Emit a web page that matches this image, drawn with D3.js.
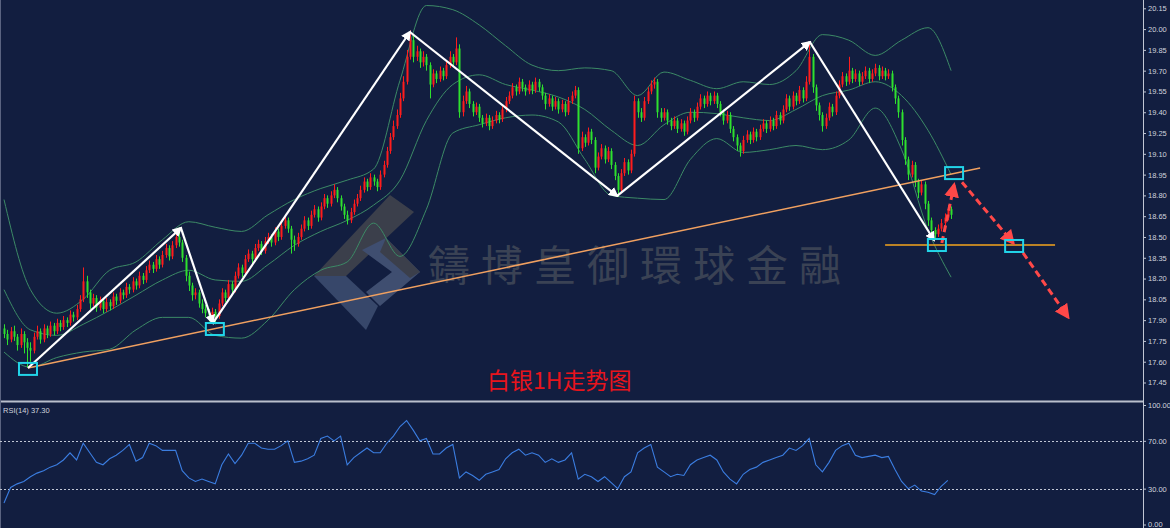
<!DOCTYPE html>
<html><head><meta charset="utf-8">
<script src="https://cdn.jsdelivr.net/npm/d3@7/dist/d3.min.js"></script>
<style>html,body{margin:0;padding:0;background:#121e40;overflow:hidden}</style>
</head><body><svg id="c" width="1170" height="528"></svg>
<script>
const open=[17.84,17.80,17.76,17.82,17.78,17.72,17.80,17.74,17.70,17.68,
17.78,17.82,17.76,17.84,17.80,17.86,17.82,17.88,17.85,17.90,
17.88,17.94,17.92,17.98,18.05,18.18,18.10,18.02,18.06,17.99,
18.04,17.98,18.03,18.00,18.07,18.04,18.10,18.08,18.14,18.12,
18.18,18.15,18.22,18.19,18.26,18.30,18.27,18.34,18.30,18.37,
18.42,18.36,18.44,18.50,18.46,18.35,18.22,18.15,18.08,18.10,
18.02,17.98,17.95,17.92,17.96,17.93,18.02,18.10,18.06,18.16,
18.12,18.22,18.28,18.24,18.34,18.38,18.34,18.42,18.45,18.40,
18.47,18.50,18.46,18.54,18.50,18.58,18.62,18.56,18.48,18.45,
18.50,18.56,18.62,18.58,18.66,18.70,18.64,18.72,18.78,18.74,
18.80,18.84,18.78,18.72,18.66,18.62,18.68,18.74,18.78,18.84,
18.90,18.86,18.93,18.90,18.86,18.95,19.02,19.12,19.22,19.30,
19.38,19.50,19.62,19.80,19.92,19.80,19.84,19.76,19.80,19.74,
19.60,19.68,19.64,19.70,19.66,19.74,19.80,19.76,19.86,19.40,
19.48,19.55,19.46,19.40,19.44,19.36,19.32,19.36,19.30,19.34,
19.38,19.35,19.42,19.48,19.52,19.58,19.55,19.62,19.58,19.55,
19.60,19.56,19.62,19.58,19.52,19.46,19.50,19.44,19.48,19.42,
19.46,19.40,19.48,19.52,19.56,19.14,19.22,19.18,19.26,19.20,
19.00,19.08,19.14,19.06,19.12,19.02,18.94,18.84,18.96,19.04,
18.98,19.10,19.48,19.40,19.36,19.48,19.55,19.60,19.62,19.40,
19.36,19.40,19.34,19.30,19.34,19.28,19.32,19.26,19.34,19.40,
19.36,19.44,19.50,19.46,19.52,19.48,19.52,19.46,19.40,19.34,
19.38,19.28,19.22,19.16,19.12,19.20,19.24,19.20,19.26,19.22,
19.28,19.32,19.28,19.34,19.30,19.38,19.34,19.42,19.50,19.44,
19.52,19.48,19.56,19.50,19.62,19.80,19.58,19.45,19.38,19.30,
19.36,19.44,19.40,19.52,19.60,19.66,19.62,19.70,19.64,19.68,
19.62,19.66,19.70,19.64,19.68,19.72,19.66,19.70,19.66,19.68,
19.58,19.50,19.40,19.20,19.06,18.95,19.02,18.90,18.82,18.88,
18.74,18.62,18.55,18.52,18.56,18.60,18.64,18.70];
const close=[17.80,17.76,17.82,17.78,17.72,17.80,17.74,17.70,17.68,17.78,
17.82,17.76,17.84,17.80,17.86,17.82,17.88,17.85,17.90,17.88,
17.94,17.92,17.98,18.05,18.18,18.10,18.02,18.06,17.99,18.04,
17.98,18.03,18.00,18.07,18.04,18.10,18.08,18.14,18.12,18.18,
18.15,18.22,18.19,18.26,18.30,18.27,18.34,18.30,18.37,18.42,
18.36,18.44,18.50,18.46,18.35,18.22,18.15,18.08,18.10,18.02,
17.98,17.95,17.92,17.96,17.93,18.02,18.10,18.06,18.16,18.12,
18.22,18.28,18.24,18.34,18.38,18.34,18.42,18.45,18.40,18.47,
18.50,18.46,18.54,18.50,18.58,18.62,18.56,18.48,18.45,18.50,
18.56,18.62,18.58,18.66,18.70,18.64,18.72,18.78,18.74,18.80,
18.84,18.78,18.72,18.66,18.62,18.68,18.74,18.78,18.84,18.90,
18.86,18.93,18.90,18.86,18.95,19.02,19.12,19.22,19.30,19.38,
19.50,19.62,19.80,19.92,19.80,19.84,19.76,19.80,19.74,19.60,
19.68,19.64,19.70,19.66,19.74,19.80,19.76,19.86,19.40,19.48,
19.55,19.46,19.40,19.44,19.36,19.32,19.36,19.30,19.34,19.38,
19.35,19.42,19.48,19.52,19.58,19.55,19.62,19.58,19.55,19.60,
19.56,19.62,19.58,19.52,19.46,19.50,19.44,19.48,19.42,19.46,
19.40,19.48,19.52,19.56,19.14,19.22,19.18,19.26,19.20,19.00,
19.08,19.14,19.06,19.12,19.02,18.94,18.84,18.96,19.04,18.98,
19.10,19.48,19.40,19.36,19.48,19.55,19.60,19.62,19.40,19.36,
19.40,19.34,19.30,19.34,19.28,19.32,19.26,19.34,19.40,19.36,
19.44,19.50,19.46,19.52,19.48,19.52,19.46,19.40,19.34,19.38,
19.28,19.22,19.16,19.12,19.20,19.24,19.20,19.26,19.22,19.28,
19.32,19.28,19.34,19.30,19.38,19.34,19.42,19.50,19.44,19.52,
19.48,19.56,19.50,19.62,19.80,19.58,19.45,19.38,19.30,19.36,
19.44,19.40,19.52,19.60,19.66,19.62,19.70,19.64,19.68,19.62,
19.66,19.70,19.64,19.68,19.72,19.66,19.70,19.66,19.68,19.58,
19.50,19.40,19.20,19.06,18.95,19.02,18.90,18.82,18.88,18.74,
18.62,18.55,18.52,18.56,18.60,18.64,18.70,18.66];
const high=[17.87,17.83,17.85,17.86,17.80,17.84,17.82,17.77,17.74,17.81,
17.86,17.84,17.87,17.86,17.89,17.88,17.91,17.90,17.93,17.92,
17.97,17.96,18.01,18.08,18.28,18.22,18.12,18.09,18.08,18.07,
18.06,18.06,18.05,18.10,18.09,18.13,18.12,18.17,18.16,18.21,
18.20,18.25,18.24,18.29,18.33,18.32,18.37,18.36,18.40,18.45,
18.44,18.47,18.53,18.57,18.48,18.37,18.25,18.17,18.13,18.12,
18.05,18.01,17.98,17.99,17.98,18.05,18.13,18.12,18.19,18.18,
18.25,18.31,18.30,18.37,18.41,18.40,18.45,18.48,18.47,18.50,
18.53,18.52,18.57,18.56,18.61,18.66,18.64,18.58,18.51,18.53,
18.59,18.65,18.64,18.69,18.73,18.72,18.75,18.81,18.80,18.83,
18.88,18.86,18.80,18.74,18.69,18.71,18.77,18.81,18.87,18.93,
18.92,18.96,18.95,18.92,18.98,19.05,19.15,19.25,19.34,19.42,
19.54,19.66,19.85,19.99,19.95,19.88,19.86,19.84,19.82,19.76,
19.71,19.70,19.73,19.72,19.77,19.84,19.82,19.94,19.89,19.52,
19.59,19.57,19.48,19.47,19.46,19.38,19.39,19.38,19.37,19.41,
19.40,19.45,19.51,19.55,19.61,19.60,19.65,19.64,19.60,19.63,
19.62,19.65,19.64,19.60,19.54,19.53,19.52,19.51,19.50,19.49,
19.48,19.51,19.55,19.59,19.58,19.26,19.24,19.29,19.28,19.22,
19.11,19.17,19.16,19.15,19.14,19.04,18.96,18.99,19.07,19.06,
19.13,19.52,19.50,19.43,19.51,19.58,19.63,19.65,19.64,19.43,
19.43,19.42,19.36,19.37,19.36,19.35,19.34,19.37,19.43,19.42,
19.47,19.53,19.52,19.55,19.54,19.55,19.54,19.48,19.42,19.41,
19.40,19.30,19.24,19.18,19.23,19.27,19.26,19.29,19.28,19.31,
19.35,19.34,19.37,19.36,19.41,19.40,19.45,19.53,19.52,19.55,
19.54,19.59,19.58,19.66,19.90,19.82,19.60,19.47,19.40,19.39,
19.47,19.46,19.55,19.63,19.69,19.68,19.80,19.72,19.71,19.70,
19.69,19.73,19.72,19.71,19.75,19.74,19.73,19.72,19.71,19.70,
19.60,19.52,19.42,19.22,19.08,19.05,19.04,18.92,18.91,18.90,
18.76,18.64,18.57,18.59,18.63,18.67,18.73,18.72];
const low=[17.77,17.72,17.74,17.75,17.68,17.70,17.66,17.56,17.60,17.66,
17.76,17.73,17.74,17.77,17.78,17.79,17.80,17.82,17.83,17.85,
17.86,17.89,17.90,17.96,18.03,18.06,17.98,18.00,17.96,17.97,
17.95,17.96,17.97,17.98,18.01,18.02,18.05,18.06,18.09,18.10,
18.12,18.13,18.16,18.17,18.24,18.24,18.25,18.27,18.28,18.35,
18.33,18.34,18.42,18.43,18.32,18.18,18.11,18.04,18.05,17.99,
17.95,17.92,17.89,17.90,17.87,17.91,18.00,18.03,18.04,18.09,
18.10,18.20,18.21,18.22,18.32,18.31,18.32,18.40,18.37,18.38,
18.45,18.43,18.44,18.47,18.48,18.56,18.53,18.38,18.40,18.43,
18.48,18.54,18.55,18.56,18.64,18.61,18.62,18.70,18.71,18.72,
18.78,18.75,18.69,18.63,18.59,18.60,18.66,18.72,18.76,18.82,
18.83,18.84,18.87,18.83,18.84,18.93,19.00,19.10,19.20,19.28,
19.36,19.48,19.60,19.78,19.76,19.77,19.72,19.73,19.70,19.50,
19.58,19.61,19.62,19.63,19.64,19.72,19.73,19.74,19.36,19.37,
19.46,19.43,19.37,19.38,19.33,19.29,19.30,19.27,19.28,19.32,
19.32,19.33,19.40,19.46,19.50,19.52,19.53,19.55,19.52,19.53,
19.53,19.54,19.55,19.49,19.42,19.44,19.41,19.42,19.39,19.40,
19.37,19.38,19.46,19.50,19.10,19.12,19.15,19.16,19.17,18.96,
18.98,19.06,19.03,19.04,18.99,18.91,18.79,18.82,18.94,18.95,
18.96,19.08,19.36,19.33,19.34,19.46,19.53,19.57,19.36,19.33,
19.34,19.31,19.27,19.28,19.25,19.26,19.23,19.24,19.32,19.33,
19.34,19.42,19.43,19.44,19.45,19.46,19.43,19.37,19.31,19.32,
19.25,19.19,19.12,19.08,19.10,19.18,19.17,19.18,19.19,19.20,
19.26,19.25,19.26,19.27,19.28,19.31,19.32,19.40,19.41,19.42,
19.45,19.46,19.47,19.48,19.60,19.54,19.41,19.34,19.26,19.28,
19.34,19.37,19.38,19.50,19.58,19.59,19.60,19.61,19.62,19.59,
19.60,19.64,19.61,19.62,19.66,19.63,19.64,19.63,19.64,19.55,
19.46,19.36,19.16,19.02,18.91,18.93,18.86,18.78,18.80,18.70,
18.58,18.51,18.48,18.50,18.54,18.58,18.62,18.63];

// Bollinger band readings, taken every 8 bars
const bandIdx=[0,8,16,24,32,40,48,56,64,72,80,88,96,104,112,120,128,136,144,152,160,168,176,184,192,200,208,216,224,232,240,248,256,264,272,280,287];
const bandUpper=[18.77,18.12,17.95,18.05,18.26,18.32,18.48,18.61,18.57,18.54,18.66,18.77,18.85,18.91,18.99,19.63,20.17,20.14,20.03,19.88,19.74,19.70,19.72,19.70,19.52,19.69,19.63,19.57,19.62,19.60,19.70,19.96,19.92,19.81,19.92,20.01,19.70];
const bandMiddle=[18.12,17.83,17.79,17.87,17.97,18.08,18.19,18.26,18.19,18.18,18.30,18.44,18.54,18.62,18.73,18.91,19.34,19.60,19.67,19.60,19.56,19.51,19.42,19.27,19.16,19.31,19.40,19.39,19.36,19.34,19.42,19.52,19.56,19.62,19.52,19.27,18.95];
const bandLower=[17.67,17.56,17.63,17.67,17.69,17.83,17.92,17.92,17.79,17.77,17.90,18.12,18.26,18.32,18.60,18.36,18.70,19.25,19.31,19.36,19.38,19.33,19.06,18.80,18.78,18.77,19.06,19.21,19.11,19.13,19.16,19.13,19.20,19.43,19.13,18.55,18.21];

// RSI(14), one reading every 2 bars
const rsi=[18,31,34,36,40,43,45,48,50,54,60,54,68,60,52,50,55,58,62,67,
53,56,68,66,62,62,62,45,39,36,38,36,34,50,59,51,58,68,68,64,
63,63,66,70,52,53,55,58,72,74,70,74,50,56,60,64,60,60,68,74,
82,87,79,70,72,59,59,64,67,39,44,41,37,42,44,46,55,60,63,58,
60,58,52,55,52,54,60,38,42,40,36,40,35,30,40,44,60,64,67,48,
44,40,42,41,50,54,56,58,54,44,38,34,42,46,48,52,54,56,58,64,
62,66,72,50,44,52,62,66,68,58,56,57,58,56,57,46,36,30,33,28,
27,25,32,37];

const priceTicks=[20.15,20.00,19.85,19.70,19.55,19.40,19.25,19.10,18.95,18.80,18.65,18.50,18.35,18.20,18.05,17.90,17.75,17.60,17.45];
const rsiTicks=[100,70,30,0];
const rsiLast=37.30;

// annotations (bar index, price)
const swingPath=[[7.27,17.555],[53.6,18.565],[63.3,17.879],[123.0,19.979],[185.8,18.796],[244.2,19.907],[281.8,18.478]];
const trendLine=[[7.27,17.555],[295.8,18.998]];
const supportLine=[[267,18.442],[318.5,18.442]];
const boxes=[[7.27,17.548],[63.9,17.836],[282.7,18.442],[287.9,18.961],[306.1,18.435]];
const forecast=[[[284.2,18.457],[287.9,18.875]],[[290.3,18.895],[305.8,18.457]],[[308.8,18.385],[322.4,17.923]]];

const svg=d3.select("#c");
const W=1170,H=528,axisX=1143;
const x=d3.scaleLinear().domain([0,287]).range([4,951.1]);
const y=d3.scaleLinear().domain([17.45,20.15]).range([382.5,8.3]);
const yr=d3.scaleLinear().domain([0,100]).range([524.5,405]);

svg.append("rect").attr("width",W).attr("height",H).attr("fill","#121e40");

const defs=svg.append("defs");
defs.append("clipPath").attr("id","mainClip").append("rect").attr("x",0).attr("y",0).attr("width",axisX).attr("height",401);
defs.append("clipPath").attr("id","rsiClip").append("rect").attr("x",0).attr("y",403).attr("width",axisX).attr("height",125);
function marker(id,color,size){
  defs.append("marker").attr("id",id).attr("viewBox","0 0 10 10").attr("refX",8).attr("refY",5)
   .attr("markerUnits","userSpaceOnUse").attr("markerWidth",size).attr("markerHeight",size).attr("orient","auto")
   .append("path").attr("d","M0,0L10,5L0,10z").attr("fill",color);
}
marker("wArrow","#ffffff",10);
marker("rArrow","#ff4848",15);

const main=svg.append("g").attr("clip-path","url(#mainClip)");

// watermark logo
const wm=main.append("g");
wm.append("polygon").attr("points","390,195 414,212 346,276 314,276").attr("fill","#3b3f4b");
wm.append("polygon").attr("points","314,276 346,276 378,306 366,330").attr("fill","#37476a");
wm.append("polygon").attr("points","362,250 386,238 420,272 380,306 366,292 392,272").attr("fill","#3f4e70");
wm.append("polygon").attr("points","386,238 420,272 410,278 380,252").attr("fill","#3b3f4b");
wm.append("text").attr("x",428).attr("y",281).attr("font-family","'Noto Sans CJK TC','Noto Sans CJK SC',sans-serif")
  .attr("font-size",42).attr("letter-spacing",11).attr("fill","#3a4254").text("鑄博皇御環球金融");

// Bollinger bands
const bandLine=d3.line().x((d,i)=>x(bandIdx[i])).y(d=>y(d)).curve(d3.curveMonotoneX);
[bandUpper,bandMiddle,bandLower].forEach(b=>{
  main.append("path").attr("d",bandLine(b)).attr("fill","none").attr("stroke","#3c8a66").attr("stroke-width",1);
});

// candles
const idx=d3.range(close.length);
const col=i=>close[i]>=open[i]?"#ff1c1c":"#2ee02e";
const cg=main.append("g");
cg.selectAll("line").data(idx).join("line")
  .attr("x1",i=>Math.round(x(i))+0.5).attr("x2",i=>Math.round(x(i))+0.5)
  .attr("y1",i=>y(high[i])).attr("y2",i=>y(low[i])).attr("stroke",col).attr("stroke-width",1);
cg.selectAll("rect").data(idx).join("rect")
  .attr("x",i=>Math.round(x(i))-0.5).attr("width",2)
  .attr("y",i=>y(Math.max(open[i],close[i])))
  .attr("height",i=>Math.max(1,Math.abs(y(open[i])-y(close[i])))).attr("fill",col);

// trend lines
const pl=d3.line().x(d=>x(d[0])).y(d=>y(d[1]));
main.append("path").attr("d",pl(trendLine)).attr("stroke","#f0a060").attr("stroke-width",1.5).attr("fill","none");
main.append("path").attr("d",pl(supportLine)).attr("stroke","#f5a41c").attr("stroke-width",1.5).attr("fill","none");

// swing arrows
for(let k=0;k<swingPath.length-1;k++){
  main.append("path").attr("d",pl([swingPath[k],swingPath[k+1]])).attr("stroke","#ffffff").attr("stroke-width",2.2)
   .attr("fill","none").attr("marker-end","url(#wArrow)");
}
// forecast arrows
forecast.forEach(seg=>{
  main.append("path").attr("d",pl(seg)).attr("stroke","#ff4848").attr("stroke-width",3).attr("stroke-dasharray","7,4")
   .attr("fill","none").attr("marker-end","url(#rArrow)");
});
// boxes
main.selectAll("rect.box").data(boxes).join("rect").attr("class","box")
  .attr("x",d=>x(d[0])-9).attr("y",d=>y(d[1])-6).attr("width",18).attr("height",12)
  .attr("fill","none").attr("stroke","#22d4e8").attr("stroke-width",2);

// title
svg.append("text").attr("x",487).attr("y",389).attr("font-family","'Noto Sans CJK SC',sans-serif").attr("font-size",23)
  .attr("fill","#e8141c").text("白银1H走势图");

// separator and frame
svg.append("line").attr("x1",0).attr("x2",axisX).attr("y1",401.5).attr("y2",401.5).attr("stroke","#b9bfcc").attr("stroke-width",2);
svg.append("line").attr("x1",0.5).attr("x2",0.5).attr("y1",0).attr("y2",H).attr("stroke","#5a6380").attr("stroke-width",1);

// price axis
const ax=svg.append("g").attr("transform",`translate(${axisX},0)`)
  .call(d3.axisRight(y).tickValues(priceTicks).tickSize(3).tickSizeOuter(0).tickFormat(d3.format(".2f")));
ax.select(".domain").remove();
ax.selectAll("line").attr("stroke","#c0c6d4");
ax.selectAll("text").attr("fill","#d0d4de").attr("font-size",7.5).attr("font-family","'Liberation Sans',sans-serif").attr("x",5);
svg.append("line").attr("x1",axisX+0.5).attr("x2",axisX+0.5).attr("y1",0).attr("y2",H).attr("stroke","#c0c6d4");

// RSI panel
const rg=svg.append("g").attr("clip-path","url(#rsiClip)");
[70,30].forEach(v=>{
  rg.append("line").attr("x1",0).attr("x2",axisX).attr("y1",Math.round(yr(v))+0.5).attr("y2",Math.round(yr(v))+0.5)
   .attr("stroke","#c0c6d4").attr("stroke-dasharray","2,2");
});
const rl=d3.line().x((d,i)=>x(i*2)).y(d=>yr(d));
rg.append("path").attr("d",rl(rsi)).attr("fill","none").attr("stroke","#3b7de0").attr("stroke-width",1.1);
svg.append("text").attr("x",3).attr("y",413).attr("font-size",7.5).attr("font-family","'Liberation Sans',sans-serif")
  .attr("fill","#d0d4de").text("RSI(14) "+rsiLast.toFixed(2));
const rax=svg.append("g").attr("transform",`translate(${axisX},0)`)
  .call(d3.axisRight(yr).tickValues(rsiTicks).tickSize(3).tickSizeOuter(0).tickFormat(d3.format(".2f")));
rax.select(".domain").remove();
rax.selectAll("line").attr("stroke","#c0c6d4");
rax.selectAll("text").attr("fill","#d0d4de").attr("font-size",7.5).attr("font-family","'Liberation Sans',sans-serif").attr("x",5);
</script></body></html>
